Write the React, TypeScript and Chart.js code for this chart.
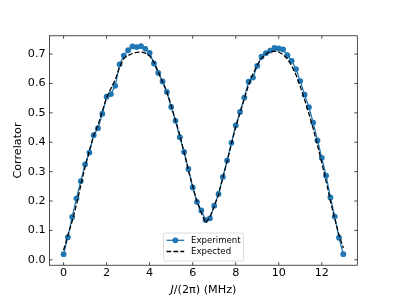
import React, { useEffect, useRef } from "react";
import { Chart, registerables } from "chart.js";

Chart.register(...registerables);

const xValues: number[] = [
  0.0, 0.2, 0.4, 0.6, 0.8, 1.0, 1.2, 1.4, 1.6, 1.8, 2.0, 2.2, 2.4, 2.6, 2.8, 3.0, 3.2, 3.4, 3.6, 3.8,
  4.0, 4.2, 4.4, 4.6, 4.8, 5.0, 5.2, 5.4, 5.6, 5.8, 6.0, 6.2, 6.4, 6.6, 6.8, 7.0, 7.2, 7.4, 7.6, 7.8,
  8.0, 8.2, 8.4, 8.6, 8.8, 9.0, 9.2, 9.4, 9.6, 9.8, 10.0, 10.2, 10.4, 10.6, 10.8, 11.0, 11.2, 11.4,
  11.6, 11.8, 12.0, 12.2, 12.4, 12.6, 12.8, 13.0,
];

const experiment: number[] = [
  0.019, 0.077, 0.146, 0.209, 0.268, 0.325, 0.365, 0.424, 0.448, 0.497, 0.555, 0.564, 0.592, 0.665,
  0.695, 0.713, 0.726, 0.724, 0.727, 0.718, 0.704, 0.668, 0.636, 0.607, 0.571, 0.520, 0.473, 0.417,
  0.367, 0.309, 0.246, 0.197, 0.168, 0.135, 0.141, 0.184, 0.224, 0.282, 0.338, 0.398, 0.457, 0.503,
  0.552, 0.606, 0.620, 0.660, 0.691, 0.703, 0.712, 0.721, 0.719, 0.716, 0.696, 0.677, 0.649, 0.608,
  0.562, 0.519, 0.467, 0.406, 0.347, 0.286, 0.212, 0.147, 0.075, 0.019,
];

const expected: number[] = [
  0.033, 0.084, 0.132, 0.188, 0.254, 0.316, 0.372, 0.424, 0.458, 0.505, 0.553, 0.583, 0.612, 0.655,
  0.686, 0.695, 0.702, 0.706, 0.707, 0.703, 0.694, 0.672, 0.640, 0.605, 0.572, 0.525, 0.475, 0.425,
  0.365, 0.305, 0.250, 0.198, 0.160, 0.126, 0.145, 0.182, 0.222, 0.278, 0.335, 0.394, 0.452, 0.500,
  0.548, 0.596, 0.632, 0.662, 0.686, 0.700, 0.708, 0.710, 0.707, 0.698, 0.684, 0.660, 0.630, 0.590,
  0.545, 0.498, 0.447, 0.390, 0.330, 0.268, 0.200, 0.140, 0.085, 0.040,
];

const seriesNames: string[] = ["Experiment", "Expected"];
const yTitle = "Correlator";
const xTitleItalic = "J";
const xTitleRest = "/(2\u03c0) (MHz)";

const FONT = "'DejaVu Sans', sans-serif";
const W = 397;
const H = 298;
const AX_LEFT = 49.6;
const AX_RIGHT = 357.3;
const AX_TOP = 35.8;
const AX_BOTTOM = 265.2;

const framePlugin = {
  id: "frame",
  afterDraw(chart: any) {
    const { ctx, chartArea } = chart;
    const { left, right, top, bottom } = chartArea;
    const xs = chart.scales.x;
    const ys = chart.scales.y;
    ctx.save();
    ctx.strokeStyle = "#000";
    ctx.lineWidth = 0.7;
    ctx.strokeRect(left, top, right - left, bottom - top);
    const tl = 3;
    ctx.beginPath();
    xs.ticks.forEach((t: any) => {
      const px = xs.getPixelForValue(t.value);
      ctx.moveTo(px, bottom);
      ctx.lineTo(px, bottom - tl);
      ctx.moveTo(px, top);
      ctx.lineTo(px, top + tl);
    });
    ys.ticks.forEach((t: any) => {
      const py = ys.getPixelForValue(t.value);
      ctx.moveTo(left, py);
      ctx.lineTo(left + tl, py);
      ctx.moveTo(right, py);
      ctx.lineTo(right - tl, py);
    });
    ctx.stroke();

    // x-axis title with italic J
    const fs = 11.2;
    const italicFont = `italic ${fs}px ${FONT}`;
    const normalFont = `${fs}px ${FONT}`;
    ctx.font = italicFont;
    const w1 = ctx.measureText(xTitleItalic).width;
    ctx.font = normalFont;
    const w2 = ctx.measureText(xTitleRest).width;
    const cx = (left + right) / 2;
    const startX = cx - (w1 + w2) / 2;
    const by = 292.5;
    ctx.fillStyle = "#000";
    ctx.textBaseline = "alphabetic";
    ctx.textAlign = "left";
    ctx.font = italicFont;
    ctx.fillText(xTitleItalic, startX, by);
    ctx.font = normalFont;
    ctx.fillText(xTitleRest, startX + w1, by);

    // legend
    const lfs = 8.6;
    const lx = 163.5;
    const ly = 233;
    const lw = 80;
    const lh = 28;
    const r = 1.7;
    ctx.beginPath();
    ctx.moveTo(lx + r, ly);
    ctx.lineTo(lx + lw - r, ly);
    ctx.arcTo(lx + lw, ly, lx + lw, ly + r, r);
    ctx.lineTo(lx + lw, ly + lh - r);
    ctx.arcTo(lx + lw, ly + lh, lx + lw - r, ly + lh, r);
    ctx.lineTo(lx + r, ly + lh);
    ctx.arcTo(lx, ly + lh, lx, ly + lh - r, r);
    ctx.lineTo(lx, ly + r);
    ctx.arcTo(lx, ly, lx + r, ly, r);
    ctx.closePath();
    ctx.fillStyle = "rgba(255,255,255,0.8)";
    ctx.fill();
    ctx.strokeStyle = "rgba(204,204,204,0.8)";
    ctx.lineWidth = 0.86;
    ctx.stroke();

    const rows = [240.3, 251.5];
    const hx1 = 166.5;
    const hx2 = 184.2;
    chart.data.datasets.forEach((ds: any, i: number) => {
      const yy = rows[i];
      ctx.save();
      ctx.strokeStyle = ds.borderColor;
      ctx.lineWidth = ds.borderWidth;
      ctx.setLineDash(ds.borderDash || []);
      ctx.beginPath();
      ctx.moveTo(hx1, yy);
      ctx.lineTo(hx2, yy);
      ctx.stroke();
      ctx.restore();
      if (ds.pointRadius > 0) {
        ctx.beginPath();
        ctx.arc((hx1 + hx2) / 2, yy, ds.pointRadius, 0, Math.PI * 2);
        ctx.fillStyle = ds.backgroundColor;
        ctx.fill();
      }
      ctx.fillStyle = "#000";
      ctx.font = `${lfs}px ${FONT}`;
      ctx.textBaseline = "middle";
      ctx.textAlign = "left";
      ctx.fillText(ds.label, 191, yy);
    });
    ctx.restore();
  },
};

export default function App() {
  const canvasRef = useRef<HTMLCanvasElement | null>(null);

  useEffect(() => {
    if (!canvasRef.current) return;
    const expPts = xValues.map((x, i) => ({ x, y: experiment[i] }));
    const expdPts = xValues.map((x, i) => ({ x, y: expected[i] }));
    const chart = new Chart(canvasRef.current, {
      type: "line",
      data: {
        datasets: [
          {
            label: seriesNames[0],
            data: expPts,
            borderColor: "#1f77b4",
            backgroundColor: "#1f77b4",
            borderWidth: 1.3,
            pointRadius: 2.9,
            pointBorderWidth: 0,
            pointHoverRadius: 2.9,
            tension: 0,
            order: 1,
          },
          {
            label: seriesNames[1],
            data: expdPts,
            borderColor: "#000000",
            backgroundColor: "#000000",
            borderWidth: 1.3,
            borderDash: [4.8, 2.1],
            pointRadius: 0,
            tension: 0,
            order: 0,
          },
        ],
      },
      options: {
        animation: false,
        responsive: false,
        devicePixelRatio: 1,
        events: [],
        layout: {
          padding: { left: 0, top: AX_TOP, right: W - AX_RIGHT, bottom: 0 },
        },
        plugins: {
          legend: { display: false },
          tooltip: { enabled: false },
        },
        scales: {
          x: {
            type: "linear",
            min: -0.65,
            max: 13.65,
            grid: { display: false, drawTicks: false },
            border: { display: false },
            ticks: {
              stepSize: 2,
              includeBounds: false,
              padding: 1.5,
              color: "#000",
              font: { family: FONT, size: 11.2 },
              maxRotation: 0,
              callback: (v: any) => String(Math.round(Number(v))),
            },
            afterFit: (s: any) => {
              s.height = H - AX_BOTTOM;
            },
          },
          y: {
            type: "linear",
            min: -0.0184,
            max: 0.7622,
            grid: { display: false, drawTicks: false },
            border: { display: false },
            title: {
              display: true,
              text: yTitle,
              color: "#000",
              font: { family: FONT, size: 11.2, lineHeight: 1.2 },
              padding: { top: 11, bottom: 0 },
            },
            ticks: {
              stepSize: 0.1,
              includeBounds: false,
              padding: 4,
              color: "#000",
              font: { family: FONT, size: 11.2 },
              callback: (v: any) => Number(v).toFixed(1),
            },
            afterFit: (s: any) => {
              s.width = AX_LEFT;
            },
          },
        },
      },
      plugins: [framePlugin],
    });
    return () => chart.destroy();
  }, []);

  return (
    <div style={{ position: "absolute", left: 0, top: 0, width: W, height: H, background: "#fff" }}>
      <canvas ref={canvasRef} width={W} height={H} style={{ display: "block", width: W, height: H }} />
    </div>
  );
}
